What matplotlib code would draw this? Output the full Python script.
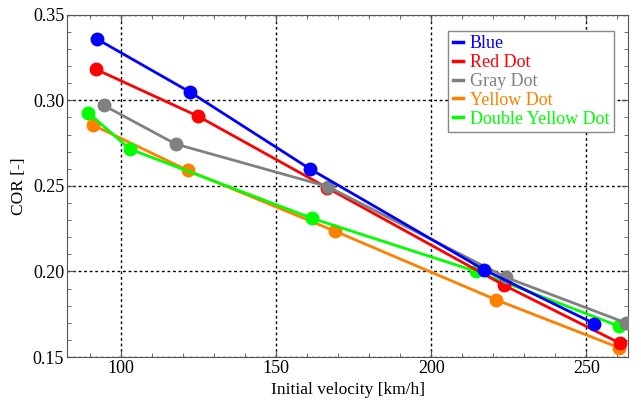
import numpy as np
import matplotlib
matplotlib.use('Agg')
import matplotlib.pyplot as plt
from matplotlib.ticker import MultipleLocator

plt.rcParams['font.family'] = ['Liberation Serif', 'DejaVu Serif']

names = ['Blue', 'Red Dot', 'Gray Dot', 'Yellow Dot', 'Double Yellow Dot']
colors = ['#0000ff', '#ff0000', '#808080', '#ff8000', '#00ff00']

v_blue = [92.2, 122.3, 160.8, 217.0, 252.6]
cor_blue = [0.3358, 0.3047, 0.2600, 0.2010, 0.1695]
v_red = [91.9, 124.9, 166.3, 223.4, 260.9]
cor_red = [0.3181, 0.2906, 0.2490, 0.1920, 0.1580]
v_gray = [94.4, 117.5, 166.6, 224.1, 262.7]
cor_gray = [0.2970, 0.2745, 0.2496, 0.1965, 0.1700]
v_yellow = [91.0, 121.5, 169.0, 220.8, 260.5]
cor_yellow = [0.2855, 0.2590, 0.2235, 0.1835, 0.1555]
v_dyellow = [89.3, 102.8, 161.6, 214.5, 260.5]
cor_dyellow = [0.2928, 0.2715, 0.2310, 0.2000, 0.1680]

series = [(v_blue, cor_blue), (v_red, cor_red), (v_gray, cor_gray),
          (v_yellow, cor_yellow), (v_dyellow, cor_dyellow)]
zorders = [6, 4, 5, 3, 3.5]

fig = plt.figure(figsize=(6.41, 4.05), dpi=100)
ax = fig.add_axes([0.1045, 0.1185, 0.8755, 0.845])

for (v, c), name, col, z in zip(series, names, colors, zorders):
    ax.plot(v, c, '-o', color=col, lw=2.0, ms=9, label=name, zorder=z)

ax.set_xlim(82.5, 263.5)
ax.set_ylim(0.15, 0.35)
ax.xaxis.set_major_locator(MultipleLocator(50))
ax.xaxis.set_minor_locator(MultipleLocator(10))
ax.yaxis.set_major_locator(MultipleLocator(0.05))
ax.yaxis.set_minor_locator(MultipleLocator(0.01))
ax.yaxis.set_major_formatter(matplotlib.ticker.FormatStrFormatter('%.2f'))
ax.tick_params(which='both', direction='in', top=True, right=True, labelsize=13, color='#555555')
ax.tick_params(which='major', length=5, pad=2)
ax.tick_params(which='minor', length=3)
for s in ax.spines.values():
    s.set_color('#555555')
ax.grid(True, which='major', color='black', ls=(0, (2, 2)), lw=1.0, zorder=0)
ax.set_axisbelow(True)

ax.set_xlabel('Initial velocity [km/h]', fontsize=12.5)
ax.set_ylabel('COR [-]', fontsize=12.5)

leg = ax.legend(loc='upper left', bbox_to_anchor=(0.679, 0.953), fontsize=13,
                handlelength=0.6, handletextpad=0.35, borderpad=0.25, labelspacing=0.1,
                borderaxespad=0, fancybox=False, framealpha=1, edgecolor='#888888')
for line, txt, col in zip(leg.get_lines(), leg.get_texts(), colors):
    line.set_marker('')
    line.set_linewidth(2.5)
    txt.set_color(col)
leg.set_zorder(10)

fig.savefig('out.png', dpi=100)
